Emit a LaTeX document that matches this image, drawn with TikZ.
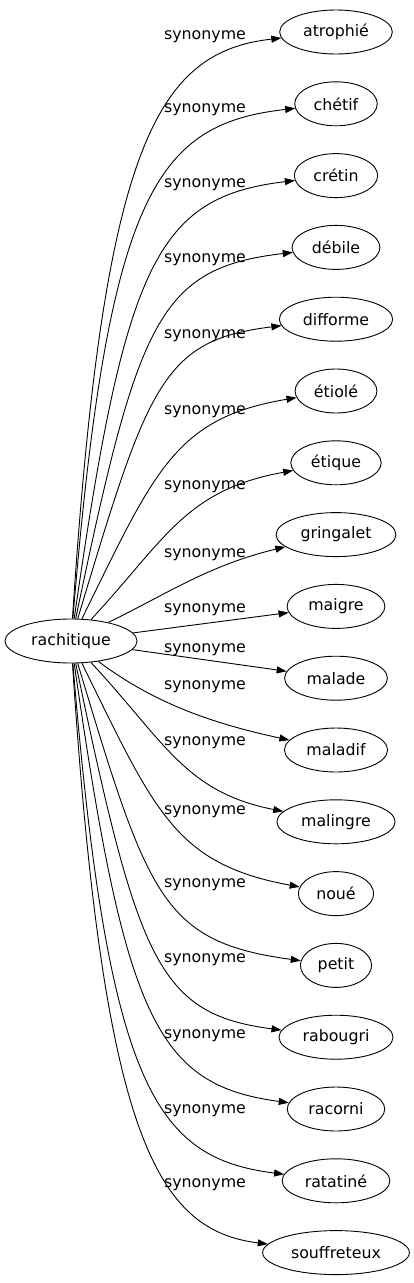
\documentclass[tikz,border=0pt]{standalone}
\usepackage{fontspec}
\setmainfont{DejaVu Sans}
\usetikzlibrary{arrows.meta,shapes.geometric}
\begin{document}
\begin{tikzpicture}[x=1pt,y=-1pt,
  word/.style={draw, ellipse, line width=0.9pt, inner xsep=6.9pt, inner ysep=3pt, minimum height=44pt, font=\fontsize{15.8}{18}\selectfont},
  rel/.style={font=\fontsize{15.8}{18}\selectfont, anchor=base, inner sep=0pt},
  link/.style={draw, line width=0.9pt, -{Triangle[length=10pt,width=7pt]}}]
\useasboundingbox (0,0) rectangle (414,1283);
\node[word] (root) at (71,641) {rachitique};
\node[word] (t0) at (336,32) {atrophié};
\node[word] (t1) at (336,103.8) {chétif};
\node[word] (t2) at (336,175.6) {crétin};
\node[word] (t3) at (336,247.4) {débile};
\node[word] (t4) at (336,319.2) {difforme};
\node[word] (t5) at (336,391) {étiolé};
\node[word] (t6) at (336,462.8) {étique};
\node[word] (t7) at (336,534.6) {gringalet};
\node[word] (t8) at (336,606.4) {maigre};
\node[word] (t9) at (336,678.2) {malade};
\node[word] (t10) at (336,750) {maladif};
\node[word] (t11) at (336,821.8) {malingre};
\node[word] (t12) at (336,893.6) {noué};
\node[word] (t13) at (336,965.4) {petit};
\node[word] (t14) at (336,1037.2) {rabougri};
\node[word] (t15) at (336,1109) {racorni};
\node[word] (t16) at (336,1180.8) {ratatiné};
\node[word] (t17) at (336,1252.6) {souffreteux};
\node[rel] (l0) at (205,39.5) {synonyme};
\node[rel] (l1) at (205,112.5) {synonyme};
\node[rel] (l2) at (205,187.5) {synonyme};
\node[rel] (l3) at (205,262.5) {synonyme};
\node[rel] (l4) at (205,338) {synonyme};
\node[rel] (l5) at (205,414.5) {synonyme};
\node[rel] (l6) at (205,489.5) {synonyme};
\node[rel] (l7) at (205,557.5) {synonyme};
\node[rel] (l8) at (205,612.5) {synonyme};
\node[rel] (l9) at (205,652.5) {synonyme};
\node[rel] (l10) at (205,689.5) {synonyme};
\node[rel] (l11) at (205,745.5) {synonyme};
\node[rel] (l12) at (205,814.5) {synonyme};
\node[rel] (l13) at (205,887.5) {synonyme};
\node[rel] (l14) at (205,962.5) {synonyme};
\node[rel] (l15) at (205,1038.5) {synonyme};
\node[rel] (l16) at (205,1113.5) {synonyme};
\node[rel] (l17) at (205,1187.5) {synonyme};
\draw[link] (root) .. controls (103,149) and (155,52) .. (t0);
\draw[link] (root) .. controls (108,195) and (155,124) .. (t1);
\draw[link] (root) .. controls (125,264) and (156,197) .. (t2);
\draw[link] (root) .. controls (138,321) and (158,268) .. (t3);
\draw[link] (root) .. controls (148,385) and (162,340) .. (t4);
\draw[link] (root) .. controls (155,470) and (175,418) .. (t5);
\draw[link] (root) .. controls (165,540) and (185,490) .. (t6);
\draw[link] (root) .. controls (170,592) and (210,565) .. (t7);
\draw[link] (root) -- (t8);
\draw[link] (root) -- (t9);
\draw[link] (root) .. controls (150,700) and (205,722) .. (t10);
\draw[link] (root) .. controls (165,742) and (185,792) .. (t11);
\draw[link] (root) .. controls (155,812) and (175,864) .. (t12);
\draw[link] (root) .. controls (148,897) and (162,942) .. (t13);
\draw[link] (root) .. controls (138,961) and (158,1014) .. (t14);
\draw[link] (root) .. controls (125,1018) and (156,1085) .. (t15);
\draw[link] (root) .. controls (108,1087) and (155,1158) .. (t16);
\draw[link] (root) .. controls (103,1133) and (155,1230) .. (t17);
\end{tikzpicture}
\end{document}
